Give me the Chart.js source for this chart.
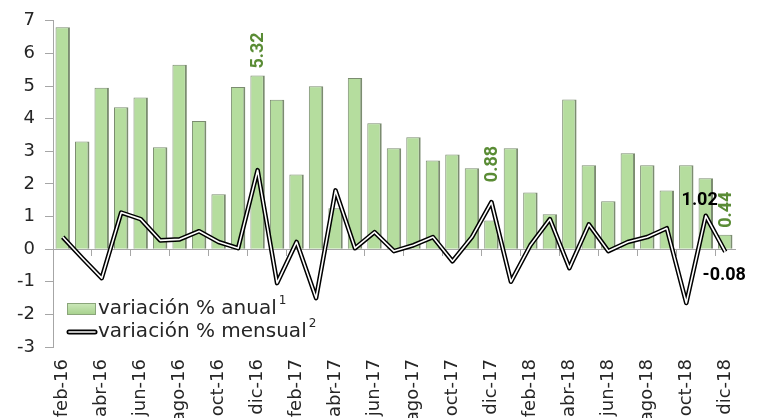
<!DOCTYPE html>
<html>
<head>
<meta charset="utf-8">
<script src="https://cdn.jsdelivr.net/npm/chart.js@4/dist/chart.umd.min.js"></script>
<style>
  html, body { margin: 0; padding: 0; background: #fff; }
  #wrap { width: 760px; height: 418px; }
</style>
</head>
<body>
<div id="wrap"><canvas id="chart" width="760" height="418"></canvas></div>
<script>
const months = [
  'feb-16','mar-16','abr-16','may-16','jun-16','jul-16','ago-16','sep-16','oct-16','nov-16','dic-16',
  'ene-17','feb-17','mar-17','abr-17','may-17','jun-17','jul-17','ago-17','sep-17','oct-17','nov-17','dic-17',
  'ene-18','feb-18','mar-18','abr-18','may-18','jun-18','jul-18','ago-18','sep-18','oct-18','nov-18','dic-18'
];
const anual = [
  6.8, 3.3, 4.95, 4.35, 4.65, 3.12, 5.65, 3.93, 1.68, 4.97, 5.32,
  4.58, 2.29, 4.99, 1.25, 5.25, 3.86, 3.09, 3.43, 2.72, 2.9, 2.48, 0.88,
  3.09, 1.74, 1.07, 4.59, 2.57, 1.47, 2.94, 2.57, 1.8, 2.57, 2.17, 0.44
];
const mensual = [
  0.37, -0.27, -0.89, 1.12, 0.92, 0.27, 0.3, 0.55, 0.22, 0.03, 2.42,
  -1.04, 0.22, -1.5, 1.8, 0.03, 0.52, -0.06, 0.12, 0.37, -0.37, 0.37, 1.44,
  -1.0, 0.12, 0.92, -0.58, 0.76, -0.06, 0.22, 0.37, 0.64, -1.65, 1.02, -0.08
];
const anualLabelIdx = [10, 22, 34];
const mensualLabelIdx = [33, 34];
const legendNames = ['variación % anual', 'variación % mensual'];

const fontFamily = '"DejaVu Sans", sans-serif';
const labelFont = 'bold 18px Roboto, "DejaVu Sans", sans-serif';
const axisGrey = '#a6a6a6';
const textColor = '#262626';
const green = '#b5dd9e';
const labelGreen = '#5a8c35';

// label placement tweaks (pixels)
const anualGap = { 10: 7, 22: 20, 34: 7 };
const mensualOffset = { 33: { dx: 12, dy: -15, align: 'right' }, 34: { dx: -1, dy: 24, align: 'center' } };

const valueLabels = {
  id: 'valueLabels',
  afterDatasetsDraw(chart) {
    const ctx = chart.ctx;
    const bars = chart.getDatasetMeta(0).data;
    const line = chart.getDatasetMeta(1).data;
    ctx.save();
    ctx.font = labelFont;
    ctx.fillStyle = labelGreen;
    anualLabelIdx.forEach(i => {
      const el = bars[i];
      const top = Math.min(el.y, line[i].y);
      ctx.save();
      ctx.translate(el.x + 1, (i === 22 ? top : el.y) - anualGap[i]);
      ctx.rotate(-Math.PI / 2);
      ctx.textAlign = 'left';
      ctx.textBaseline = 'middle';
      ctx.fillText(anual[i].toFixed(2), 0, 0);
      ctx.restore();
    });
    ctx.fillStyle = '#000';
    mensualLabelIdx.forEach(i => {
      const p = line[i];
      const o = mensualOffset[i];
      ctx.textAlign = o.align;
      ctx.textBaseline = 'middle';
      ctx.fillText(mensual[i].toFixed(2), p.x + o.dx, p.y + o.dy);
    });
    ctx.restore();
  }
};

const insideLegend = {
  id: 'insideLegend',
  afterDraw(chart) {
    const ctx = chart.ctx;
    const x0 = 67, y1 = 309, y2 = 332;
    ctx.save();
    // bar swatch
    const g = ctx.createLinearGradient(0, y1 - 6, 0, y1 + 6);
    g.addColorStop(0, '#cde9bb');
    g.addColorStop(1, '#a5d08b');
    ctx.fillStyle = g;
    ctx.fillRect(x0, y1 - 6, 29, 12);
    ctx.strokeStyle = '#8aa57a';
    ctx.lineWidth = 1;
    ctx.strokeRect(x0 + 0.5, y1 - 5.5, 28, 11);
    // line swatch
    ctx.lineCap = 'round';
    ctx.strokeStyle = '#000';
    ctx.lineWidth = 5;
    ctx.beginPath(); ctx.moveTo(x0 + 2, y2); ctx.lineTo(x0 + 28, y2); ctx.stroke();
    ctx.strokeStyle = '#fff';
    ctx.lineWidth = 1.6;
    ctx.beginPath(); ctx.moveTo(x0 + 2, y2); ctx.lineTo(x0 + 28, y2); ctx.stroke();
    // texts
    ctx.fillStyle = textColor;
    ctx.textBaseline = 'middle';
    ctx.textAlign = 'left';
    ctx.font = '20px ' + fontFamily;
    const tx = 98;
    ctx.fillText(legendNames[0], tx, y1);
    const w1 = ctx.measureText(legendNames[0]).width;
    ctx.fillText(legendNames[1], tx, y2);
    const w2 = ctx.measureText(legendNames[1]).width;
    ctx.font = '12px ' + fontFamily;
    ctx.fillText('1', tx + w1 + 2, y1 - 8);
    ctx.fillText('2', tx + w2 + 2, y2 - 8);
    ctx.restore();
  }
};

const chart = new Chart(document.getElementById('chart'), {
  data: {
    labels: months,
    datasets: [
      {
        type: 'bar',
        label: legendNames[0],
        data: anual,
        backgroundColor: green,
        borderColor: '#7b8c70',
        borderWidth: { left: 1, right: 2, top: 1, bottom: 0 },
        borderSkipped: false,
        barPercentage: 0.74,
        categoryPercentage: 1,
        order: 3,
        xAxisID: 'x'
      },
      {
        type: 'line',
        label: legendNames[1],
        data: mensual,
        borderColor: '#000',
        borderWidth: 4.6,
        borderJoinStyle: 'round',
        pointRadius: 0,
        tension: 0,
        order: 2,
        xAxisID: 'x'
      },
      {
        type: 'line',
        label: legendNames[1],
        data: mensual,
        borderColor: '#fff',
        borderWidth: 1.6,
        borderJoinStyle: 'round',
        pointRadius: 0,
        tension: 0,
        order: 1,
        xAxisID: 'x'
      }
    ]
  },
  options: {
    responsive: false,
    animation: false,
    layout: { padding: { top: 20, right: 25, left: 0, bottom: 0 } },
    plugins: {
      legend: { display: false },
      tooltip: { enabled: false }
    },
    scales: {
      x: {
        type: 'category',
        position: { y: 0 },
        offset: true,
        border: { display: true, color: axisGrey, width: 1 },
        grid: {
          offset: true,
          drawOnChartArea: false,
          drawTicks: true,
          tickLength: 6,
          color: (c) => (c.index % 2 === 0 ? axisGrey : 'rgba(0,0,0,0)')
        },
        ticks: { display: false, autoSkip: false }
      },
      x2: {
        type: 'category',
        position: 'bottom',
        labels: months,
        offset: true,
        border: { display: false },
        grid: { display: false },
        ticks: {
          autoSkip: false,
          maxRotation: 90,
          minRotation: 90,
          padding: 4,
          color: textColor,
          font: { family: fontFamily, size: 18 },
          callback: (v, i) => (i % 2 === 0 ? months[i] : '')
        },
        afterFit: (s) => { s.height = 71; }
      },
      y: {
        min: -3,
        max: 7,
        border: { display: true, color: axisGrey, width: 1 },
        grid: { drawOnChartArea: false, drawTicks: true, tickLength: 8, color: axisGrey },
        ticks: {
          stepSize: 1,
          padding: 10,
          color: textColor,
          font: { family: fontFamily, size: 18 }
        },
        afterFit: (s) => { s.width = 53; }
      }
    }
  },
  plugins: [valueLabels, insideLegend]
});
</script>
</body>
</html>
